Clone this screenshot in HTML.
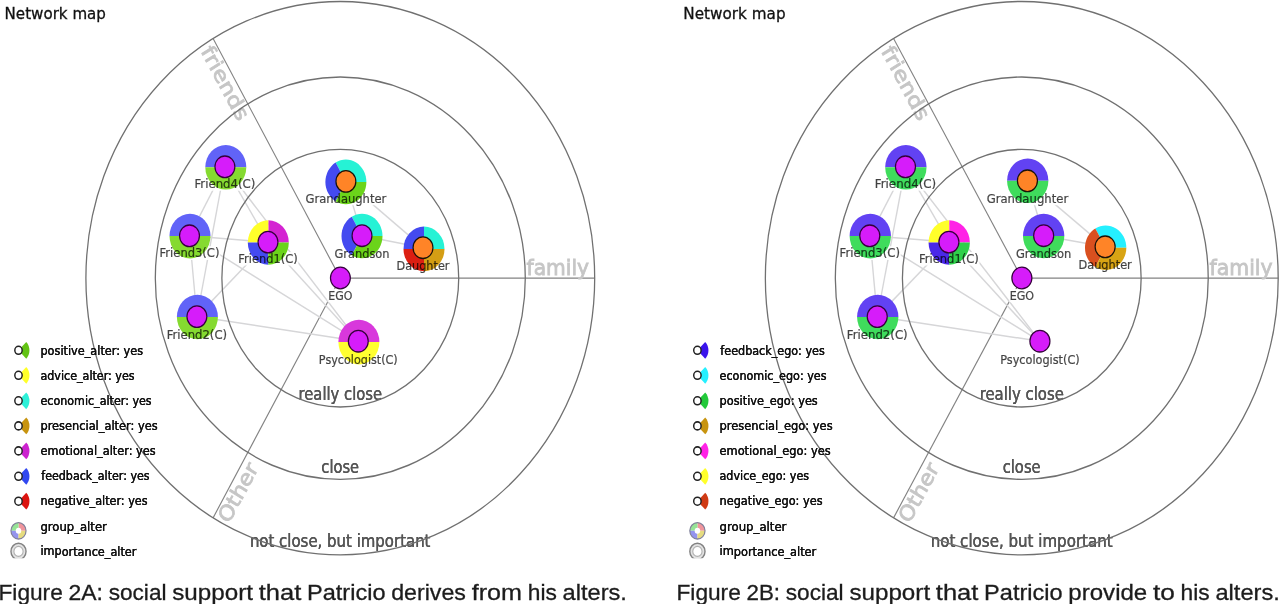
<!DOCTYPE html>
<html lang="en">
<head>
<meta charset="utf-8">
<title>Network map</title>
<style>
html,body{margin:0;padding:0;background:#fff;}
body{width:1280px;height:604px;overflow:hidden;position:relative;}
svg{position:absolute;left:0;top:0;display:block;}
svg text{font-family:"DejaVu Sans", "Liberation Sans", sans-serif;}
.b1{filter:drop-shadow(0.35px 0 0 #111);}
.b2{filter:drop-shadow(0.45px 0 0 #555);}
.b3{filter:drop-shadow(0.4px 0 0 #000);}
svg text.cap{font-family:"Liberation Sans", "DejaVu Sans", sans-serif;}
</style>
</head>
<body>
<svg width="1280" height="604" viewBox="0 0 1280 604">
<defs><clipPath id="clipb"><rect x="0" y="0" width="700" height="558.3"/></clipPath>
<clipPath id="cl"><rect x="0" y="0" width="640" height="559"/></clipPath>
<clipPath id="cr"><rect x="660" y="0" width="620" height="559"/></clipPath></defs>
<rect x="0" y="0" width="1280" height="604" fill="#fff"/>

<g clip-path="url(#cl)">
<g transform="translate(0 0) scale(0.91940 1)">
<g class="b0"><text transform="rotate(0.02 4.96 19.3)" x="4.96" y="19.3" font-size="15.3" fill="#111" stroke="#111" stroke-width="0.3" text-anchor="start" textLength="110.27" lengthAdjust="spacingAndGlyphs">Network map</text></g>
<line x1="370.13" y1="278.2" x2="646.83" y2="278.2" stroke="#828282" stroke-width="1.2"/>
<line x1="370.13" y1="278.2" x2="231.78" y2="38.57" stroke="#828282" stroke-width="1.2"/>
<line x1="370.13" y1="278.2" x2="231.78" y2="517.83" stroke="#828282" stroke-width="1.2"/>
<text x="640.74" y="275.3" text-anchor="end" textLength="67.98" lengthAdjust="spacingAndGlyphs" fill="#c6c6c6" stroke="#c6c6c6" stroke-width="0.85" font-size="21.5">family</text>
<text transform="translate(370.13 278.2) rotate(60)" x="-272.7" y="18.2" textLength="82" lengthAdjust="spacingAndGlyphs" fill="#c6c6c6" stroke="#c6c6c6" stroke-width="0.85" font-size="21.5">friends</text>
<text transform="translate(370.13 278.2) rotate(-60)" x="-273.7" y="18.2" textLength="65" lengthAdjust="spacingAndGlyphs" fill="#c6c6c6" stroke="#c6c6c6" stroke-width="0.85" font-size="21.5">Other</text>
<g class="b2"><text transform="rotate(0.02 370.13 399.6)" x="370.13" y="399.6" font-size="17" fill="#555" stroke="#555" stroke-width="0.18" text-anchor="middle" textLength="90.91" lengthAdjust="spacingAndGlyphs">really close</text></g>
<g class="b2"><text transform="rotate(0.02 370.02 473.2)" x="370.02" y="473.2" font-size="17" fill="#555" stroke="#555" stroke-width="0.18" text-anchor="middle" textLength="40.98" lengthAdjust="spacingAndGlyphs">close</text></g>
<g class="b2"><text transform="rotate(0.02 370.02 546.6)" x="370.02" y="546.6" font-size="17" fill="#555" stroke="#555" stroke-width="0.18" text-anchor="middle" textLength="196.41" lengthAdjust="spacingAndGlyphs">not close, but important</text></g>
<line x1="244.62" y1="166.8" x2="206.11" y2="235.8" stroke="#d6d6d8" stroke-width="1.5"/>
<line x1="244.62" y1="166.8" x2="214.16" y2="316.6" stroke="#d6d6d8" stroke-width="1.5"/>
<line x1="244.62" y1="166.8" x2="291.49" y2="242.1" stroke="#d6d6d8" stroke-width="1.5"/>
<line x1="244.62" y1="166.8" x2="389.71" y2="341.2" stroke="#d6d6d8" stroke-width="1.5"/>
<line x1="206.11" y1="235.8" x2="291.49" y2="242.1" stroke="#d6d6d8" stroke-width="1.5"/>
<line x1="206.11" y1="235.8" x2="214.16" y2="316.6" stroke="#d6d6d8" stroke-width="1.5"/>
<line x1="206.11" y1="235.8" x2="389.71" y2="341.2" stroke="#d6d6d8" stroke-width="1.5"/>
<line x1="214.16" y1="316.6" x2="291.49" y2="242.1" stroke="#d6d6d8" stroke-width="1.5"/>
<line x1="214.16" y1="316.6" x2="389.71" y2="341.2" stroke="#d6d6d8" stroke-width="1.5"/>
<line x1="291.49" y1="242.1" x2="389.71" y2="341.2" stroke="#d6d6d8" stroke-width="1.5"/>
<line x1="376.22" y1="181.4" x2="393.74" y2="235.7" stroke="#d6d6d8" stroke-width="1.5"/>
<line x1="376.22" y1="181.4" x2="460.08" y2="247.7" stroke="#d6d6d8" stroke-width="1.5"/>
<line x1="393.74" y1="235.7" x2="460.08" y2="247.7" stroke="#d6d6d8" stroke-width="1.5"/>
<rect x="210.57" y="177.18" width="68.09" height="13.62" rx="3" fill="#fff" fill-opacity="0.9"/>
<rect x="172.67" y="246.28" width="66.89" height="13.62" rx="3" fill="#fff" fill-opacity="0.9"/>
<rect x="180.44" y="327.48" width="67.44" height="13.62" rx="3" fill="#fff" fill-opacity="0.9"/>
<rect x="258.38" y="251.98" width="66.24" height="13.62" rx="3" fill="#fff" fill-opacity="0.9"/>
<rect x="331.36" y="191.58" width="89.73" height="13.62" rx="3" fill="#fff" fill-opacity="0.9"/>
<rect x="362.9" y="246.77" width="61.67" height="13.62" rx="3" fill="#fff" fill-opacity="0.9"/>
<rect x="430.44" y="258.57" width="59.28" height="13.62" rx="3" fill="#fff" fill-opacity="0.9"/>
<rect x="345.93" y="352.62" width="87.56" height="13.48" rx="3" fill="#fff" fill-opacity="0.9"/>
<rect x="356.21" y="288.98" width="28.06" height="13.62" rx="3" fill="#fff" fill-opacity="0.9"/>
<circle cx="370.13" cy="278.2" r="276.7" fill="none" stroke="#707070" stroke-width="1.4"/>
<circle cx="370.13" cy="278.2" r="201.2" fill="none" stroke="#707070" stroke-width="1.4"/>
<circle cx="370.13" cy="278.2" r="128.8" fill="none" stroke="#707070" stroke-width="1.4"/>
<path d="M245.59 167.3 L267.89 167.3 A22.3 22.3 0 0 0 223.29 167.3 Z" fill="#6163f8"/>
<path d="M245.59 167.3 L223.29 167.3 A22.3 22.3 0 0 0 267.89 167.3 Z" fill="#85da30"/>
<path d="M206.66 236.1 L228.96 236.1 A22.3 22.3 0 0 0 184.36 236.1 Z" fill="#6163f8"/>
<path d="M206.66 236.1 L184.36 236.1 A22.3 22.3 0 0 0 228.96 236.1 Z" fill="#85da30"/>
<path d="M214.71 317 L237.01 317 A22.3 22.3 0 0 0 192.41 317 Z" fill="#6163f8"/>
<path d="M214.71 317 L192.41 317 A22.3 22.3 0 0 0 237.01 317 Z" fill="#85da30"/>
<path d="M291.82 242.5 L314.12 242.5 A22.3 22.3 0 0 0 291.82 220.2 Z" fill="#d424d2"/>
<path d="M291.82 242.5 L291.82 220.2 A22.3 22.3 0 0 0 269.52 242.5 Z" fill="#ffff2a"/>
<path d="M291.82 242.5 L269.52 242.5 A22.3 22.3 0 0 0 291.82 264.8 Z" fill="#444af0"/>
<path d="M291.82 242.5 L291.82 264.8 A22.3 22.3 0 0 0 314.12 242.5 Z" fill="#6bd41a"/>
<path d="M376.22 181.9 L398.52 181.9 A22.3 22.3 0 0 0 365.07 162.59 Z" fill="#26f2d5"/>
<path d="M376.22 181.9 L365.07 162.59 A22.3 22.3 0 0 0 365.07 201.21 Z" fill="#444af0"/>
<path d="M376.22 181.9 L365.07 201.21 A22.3 22.3 0 0 0 398.52 181.9 Z" fill="#6bd41a"/>
<path d="M393.74 236 L416.04 236 A22.3 22.3 0 0 0 382.59 216.69 Z" fill="#26f2d5"/>
<path d="M393.74 236 L382.59 216.69 A22.3 22.3 0 0 0 382.59 255.31 Z" fill="#444af0"/>
<path d="M393.74 236 L382.59 255.31 A22.3 22.3 0 0 0 416.04 236 Z" fill="#6bd41a"/>
<path d="M461.17 248.9 L483.47 248.9 A22.3 22.3 0 0 0 461.17 226.6 Z" fill="#26f2d5"/>
<path d="M461.17 248.9 L461.17 226.6 A22.3 22.3 0 0 0 438.87 248.9 Z" fill="#444af0"/>
<path d="M461.17 248.9 L438.87 248.9 A22.3 22.3 0 0 0 461.17 271.2 Z" fill="#dc1f12"/>
<path d="M461.17 248.9 L461.17 271.2 A22.3 22.3 0 0 0 483.47 248.9 Z" fill="#d49e14"/>
<path d="M390.36 342.1 L412.66 342.1 A22.3 22.3 0 0 0 368.06 342.1 Z" fill="#d838dc"/>
<path d="M390.36 342.1 L368.06 342.1 A22.3 22.3 0 0 0 412.66 342.1 Z" fill="#ffff30"/>
<circle cx="244.62" cy="166.8" r="10.8" fill="#d61cfa" stroke="#33003a" stroke-width="1.3"/>
<circle cx="206.11" cy="235.8" r="10.8" fill="#d61cfa" stroke="#33003a" stroke-width="1.3"/>
<circle cx="214.16" cy="316.6" r="10.8" fill="#d61cfa" stroke="#33003a" stroke-width="1.3"/>
<circle cx="291.49" cy="242.1" r="10.8" fill="#d61cfa" stroke="#33003a" stroke-width="1.3"/>
<circle cx="376.22" cy="181.4" r="10.8" fill="#ff8427" stroke="#1a1208" stroke-width="1.3"/>
<circle cx="393.74" cy="235.7" r="10.8" fill="#d61cfa" stroke="#33003a" stroke-width="1.3"/>
<circle cx="460.08" cy="247.7" r="10.8" fill="#ff8427" stroke="#1a1208" stroke-width="1.3"/>
<circle cx="389.71" cy="341.2" r="10.8" fill="#d61cfa" stroke="#33003a" stroke-width="1.3"/>
<circle cx="370.24" cy="278" r="10.8" fill="#d61cfa" stroke="#33003a" stroke-width="1.3"/>
<g class="b0" opacity="0.74"><text transform="rotate(0.02 244.62 188.3)" x="244.62" y="188.3" font-size="12.5" fill="#000" stroke="#000" stroke-width="0.25" text-anchor="middle" textLength="66.32" lengthAdjust="spacingAndGlyphs">Friend4(C)</text></g>
<g class="b0" opacity="0.74"><text transform="rotate(0.02 206.11 257.4)" x="206.11" y="257.4" font-size="12.5" fill="#000" stroke="#000" stroke-width="0.25" text-anchor="middle" textLength="65.13" lengthAdjust="spacingAndGlyphs">Friend3(C)</text></g>
<g class="b0" opacity="0.74"><text transform="rotate(0.02 214.16 338.6)" x="214.16" y="338.6" font-size="12.5" fill="#000" stroke="#000" stroke-width="0.25" text-anchor="middle" textLength="65.67" lengthAdjust="spacingAndGlyphs">Friend2(C)</text></g>
<g class="b0" opacity="0.74"><text transform="rotate(0.02 291.49 263.1)" x="291.49" y="263.1" font-size="12.5" fill="#000" stroke="#000" stroke-width="0.25" text-anchor="middle" textLength="64.48" lengthAdjust="spacingAndGlyphs">Friend1(C)</text></g>
<g class="b0" opacity="0.74"><text transform="rotate(0.02 376.22 202.7)" x="376.22" y="202.7" font-size="12.5" fill="#000" stroke="#000" stroke-width="0.25" text-anchor="middle" textLength="87.97" lengthAdjust="spacingAndGlyphs">Grandaughter</text></g>
<g class="b0" opacity="0.74"><text transform="rotate(0.02 393.74 257.9)" x="393.74" y="257.9" font-size="12.5" fill="#000" stroke="#000" stroke-width="0.25" text-anchor="middle" textLength="59.91" lengthAdjust="spacingAndGlyphs">Grandson</text></g>
<g class="b0" opacity="0.74"><text transform="rotate(0.02 460.08 269.7)" x="460.08" y="269.7" font-size="12.5" fill="#000" stroke="#000" stroke-width="0.25" text-anchor="middle" textLength="57.51" lengthAdjust="spacingAndGlyphs">Daughter</text></g>
<g class="b0" opacity="0.74"><text transform="rotate(0.02 389.71 363.6)" x="389.71" y="363.6" font-size="12.3" fill="#000" stroke="#000" stroke-width="0.25" text-anchor="middle" textLength="85.79" lengthAdjust="spacingAndGlyphs">Psycologist(C)</text></g>
<g class="b0" opacity="0.74"><text transform="rotate(0.02 370.24 300.1)" x="370.24" y="300.1" font-size="12.5" fill="#000" stroke="#000" stroke-width="0.25" text-anchor="middle" textLength="26.3" lengthAdjust="spacingAndGlyphs">EGO</text></g>
<path d="M20.12 350.3 L28.54 358.71 A11.9 11.9 0 0 0 28.54 341.89 Z" fill="#63c314"/>
<circle cx="20.12" cy="350.3" r="4.0" fill="#fff" stroke="#222" stroke-width="1.6"/>
<g class="b1"><text transform="rotate(0.02 44 354.7)" x="44" y="354.7" font-size="13" fill="#111" stroke="#111" stroke-width="0.18" text-anchor="start" textLength="111.68" lengthAdjust="spacingAndGlyphs">positive_alter: yes</text></g>
<path d="M20.12 375.3 L28.54 383.71 A11.9 11.9 0 0 0 28.54 366.89 Z" fill="#ffff2a"/>
<circle cx="20.12" cy="375.3" r="4.0" fill="#fff" stroke="#222" stroke-width="1.6"/>
<g class="b1"><text transform="rotate(0.02 44 379.6)" x="44" y="379.6" font-size="13" fill="#111" stroke="#111" stroke-width="0.18" text-anchor="start" textLength="102.44" lengthAdjust="spacingAndGlyphs">advice_alter: yes</text></g>
<path d="M20.12 400.8 L28.54 409.21 A11.9 11.9 0 0 0 28.54 392.39 Z" fill="#2ef0d8"/>
<circle cx="20.12" cy="400.8" r="4.0" fill="#fff" stroke="#222" stroke-width="1.6"/>
<g class="b1"><text transform="rotate(0.02 44 404.7)" x="44" y="404.7" font-size="13" fill="#111" stroke="#111" stroke-width="0.18" text-anchor="start" textLength="120.93" lengthAdjust="spacingAndGlyphs">economic_alter: yes</text></g>
<path d="M20.12 425.9 L28.54 434.31 A11.9 11.9 0 0 0 28.54 417.49 Z" fill="#c8940f"/>
<circle cx="20.12" cy="425.9" r="4.0" fill="#fff" stroke="#222" stroke-width="1.6"/>
<g class="b1"><text transform="rotate(0.02 44 429.8)" x="44" y="429.8" font-size="13" fill="#111" stroke="#111" stroke-width="0.18" text-anchor="start" textLength="127.45" lengthAdjust="spacingAndGlyphs">presencial_alter: yes</text></g>
<path d="M20.12 450.9 L28.54 459.31 A11.9 11.9 0 0 0 28.54 442.49 Z" fill="#cc22cf"/>
<circle cx="20.12" cy="450.9" r="4.0" fill="#fff" stroke="#222" stroke-width="1.6"/>
<g class="b1"><text transform="rotate(0.02 44 454.8)" x="44" y="454.8" font-size="13" fill="#111" stroke="#111" stroke-width="0.18" text-anchor="start" textLength="125.28" lengthAdjust="spacingAndGlyphs">emotional_alter: yes</text></g>
<path d="M20.12 476.3 L28.54 484.71 A11.9 11.9 0 0 0 28.54 467.89 Z" fill="#3148f0"/>
<circle cx="20.12" cy="476.3" r="4.0" fill="#fff" stroke="#222" stroke-width="1.6"/>
<g class="b1"><text transform="rotate(0.02 44.87 479.9)" x="44.87" y="479.9" font-size="13" fill="#111" stroke="#111" stroke-width="0.18" text-anchor="start" textLength="117.88" lengthAdjust="spacingAndGlyphs">feedback_alter: yes</text></g>
<path d="M20.12 501.2 L28.54 509.61 A11.9 11.9 0 0 0 28.54 492.79 Z" fill="#dc1410"/>
<circle cx="20.12" cy="501.2" r="4.0" fill="#fff" stroke="#222" stroke-width="1.6"/>
<g class="b1"><text transform="rotate(0.02 44 504.8)" x="44" y="504.8" font-size="13" fill="#111" stroke="#111" stroke-width="0.18" text-anchor="start" textLength="116.58" lengthAdjust="spacingAndGlyphs">negative_alter: yes</text></g>
<path d="M20.12 530.8 L28.32 530.8 A8.2 8.2 0 0 0 20.12 522.6 Z" fill="#f0949c"/>
<path d="M20.12 530.8 L20.12 522.6 A8.2 8.2 0 0 0 11.92 530.8 Z" fill="#96e496"/>
<path d="M20.12 530.8 L11.92 530.8 A8.2 8.2 0 0 0 20.12 539 Z" fill="#9494ee"/>
<path d="M20.12 530.8 L20.12 539 A8.2 8.2 0 0 0 28.32 530.8 Z" fill="#e6dc80"/>
<circle cx="20.12" cy="530.8" r="8.2" fill="none" stroke="#80809a" stroke-width="1.3"/>
<circle cx="20.12" cy="530.8" r="3" fill="#fff"/>
<g class="b1"><text transform="rotate(0.02 44 530.6)" x="44" y="530.6" font-size="13" fill="#111" stroke="#111" stroke-width="0.18" text-anchor="start" textLength="72.2" lengthAdjust="spacingAndGlyphs">group_alter</text></g>
<g clip-path="url(#clipb)">
<circle cx="20.12" cy="551.4" r="8.2" fill="#e2e2e2" stroke="#828282" stroke-width="1.5"/>
<circle cx="20.12" cy="551.4" r="5" fill="#fff" stroke="#b0b0b0" stroke-width="1.2"/>
</g>
<g class="b1"><text transform="rotate(0.02 44 555.5)" x="44" y="555.5" font-size="13" fill="#111" stroke="#111" stroke-width="0.18" text-anchor="start" textLength="104.39" lengthAdjust="spacingAndGlyphs">importance_alter</text></g>
</g>
</g>
<g clip-path="url(#cr)">
<g transform="translate(678.77 0) scale(0.92672 1)">
<g class="b0"><text transform="rotate(0.02 4.96 19.3)" x="4.96" y="19.3" font-size="15.3" fill="#111" stroke="#111" stroke-width="0.3" text-anchor="start" textLength="110.27" lengthAdjust="spacingAndGlyphs">Network map</text></g>
<line x1="370.13" y1="278.2" x2="646.83" y2="278.2" stroke="#828282" stroke-width="1.2"/>
<line x1="370.13" y1="278.2" x2="231.78" y2="38.57" stroke="#828282" stroke-width="1.2"/>
<line x1="370.13" y1="278.2" x2="231.78" y2="517.83" stroke="#828282" stroke-width="1.2"/>
<text x="640.74" y="275.3" text-anchor="end" textLength="67.98" lengthAdjust="spacingAndGlyphs" fill="#c6c6c6" stroke="#c6c6c6" stroke-width="0.85" font-size="21.5">family</text>
<text transform="translate(370.13 278.2) rotate(60)" x="-272.7" y="18.2" textLength="82" lengthAdjust="spacingAndGlyphs" fill="#c6c6c6" stroke="#c6c6c6" stroke-width="0.85" font-size="21.5">friends</text>
<text transform="translate(370.13 278.2) rotate(-60)" x="-273.7" y="18.2" textLength="65" lengthAdjust="spacingAndGlyphs" fill="#c6c6c6" stroke="#c6c6c6" stroke-width="0.85" font-size="21.5">Other</text>
<g class="b2"><text transform="rotate(0.02 370.13 399.6)" x="370.13" y="399.6" font-size="17" fill="#555" stroke="#555" stroke-width="0.18" text-anchor="middle" textLength="90.91" lengthAdjust="spacingAndGlyphs">really close</text></g>
<g class="b2"><text transform="rotate(0.02 370.02 473.2)" x="370.02" y="473.2" font-size="17" fill="#555" stroke="#555" stroke-width="0.18" text-anchor="middle" textLength="40.98" lengthAdjust="spacingAndGlyphs">close</text></g>
<g class="b2"><text transform="rotate(0.02 370.02 546.6)" x="370.02" y="546.6" font-size="17" fill="#555" stroke="#555" stroke-width="0.18" text-anchor="middle" textLength="196.41" lengthAdjust="spacingAndGlyphs">not close, but important</text></g>
<line x1="244.62" y1="166.8" x2="206.11" y2="235.8" stroke="#d6d6d8" stroke-width="1.5"/>
<line x1="244.62" y1="166.8" x2="214.16" y2="316.6" stroke="#d6d6d8" stroke-width="1.5"/>
<line x1="244.62" y1="166.8" x2="291.49" y2="242.1" stroke="#d6d6d8" stroke-width="1.5"/>
<line x1="244.62" y1="166.8" x2="389.71" y2="341.2" stroke="#d6d6d8" stroke-width="1.5"/>
<line x1="206.11" y1="235.8" x2="291.49" y2="242.1" stroke="#d6d6d8" stroke-width="1.5"/>
<line x1="206.11" y1="235.8" x2="214.16" y2="316.6" stroke="#d6d6d8" stroke-width="1.5"/>
<line x1="206.11" y1="235.8" x2="389.71" y2="341.2" stroke="#d6d6d8" stroke-width="1.5"/>
<line x1="214.16" y1="316.6" x2="291.49" y2="242.1" stroke="#d6d6d8" stroke-width="1.5"/>
<line x1="214.16" y1="316.6" x2="389.71" y2="341.2" stroke="#d6d6d8" stroke-width="1.5"/>
<line x1="291.49" y1="242.1" x2="389.71" y2="341.2" stroke="#d6d6d8" stroke-width="1.5"/>
<line x1="376.22" y1="180.8" x2="393.74" y2="235.7" stroke="#d6d6d8" stroke-width="1.5"/>
<line x1="376.22" y1="180.8" x2="460.08" y2="246.8" stroke="#d6d6d8" stroke-width="1.5"/>
<line x1="393.74" y1="235.7" x2="460.08" y2="246.8" stroke="#d6d6d8" stroke-width="1.5"/>
<rect x="210.57" y="177.18" width="68.09" height="13.62" rx="3" fill="#fff" fill-opacity="0.9"/>
<rect x="172.67" y="246.28" width="66.89" height="13.62" rx="3" fill="#fff" fill-opacity="0.9"/>
<rect x="180.44" y="327.48" width="67.44" height="13.62" rx="3" fill="#fff" fill-opacity="0.9"/>
<rect x="258.38" y="251.98" width="66.24" height="13.62" rx="3" fill="#fff" fill-opacity="0.9"/>
<rect x="331.36" y="191.58" width="89.73" height="13.62" rx="3" fill="#fff" fill-opacity="0.9"/>
<rect x="362.9" y="246.77" width="61.67" height="13.62" rx="3" fill="#fff" fill-opacity="0.9"/>
<rect x="430.44" y="257.77" width="59.28" height="13.62" rx="3" fill="#fff" fill-opacity="0.9"/>
<rect x="345.93" y="352.62" width="87.56" height="13.48" rx="3" fill="#fff" fill-opacity="0.9"/>
<rect x="356.21" y="288.98" width="28.06" height="13.62" rx="3" fill="#fff" fill-opacity="0.9"/>
<circle cx="370.13" cy="278.2" r="276.7" fill="none" stroke="#707070" stroke-width="1.4"/>
<circle cx="370.13" cy="278.2" r="201.2" fill="none" stroke="#707070" stroke-width="1.4"/>
<circle cx="370.13" cy="278.2" r="128.8" fill="none" stroke="#707070" stroke-width="1.4"/>
<path d="M245.05 167.3 L267.35 167.3 A22.3 22.3 0 0 0 222.75 167.3 Z" fill="#6242f3"/>
<path d="M245.05 167.3 L222.75 167.3 A22.3 22.3 0 0 0 267.35 167.3 Z" fill="#3fdc5c"/>
<path d="M206.66 236.1 L228.96 236.1 A22.3 22.3 0 0 0 184.36 236.1 Z" fill="#6242f3"/>
<path d="M206.66 236.1 L184.36 236.1 A22.3 22.3 0 0 0 228.96 236.1 Z" fill="#3fdc5c"/>
<path d="M214.71 317 L237.01 317 A22.3 22.3 0 0 0 192.41 317 Z" fill="#6242f3"/>
<path d="M214.71 317 L192.41 317 A22.3 22.3 0 0 0 237.01 317 Z" fill="#3fdc5c"/>
<path d="M291.82 242.5 L314.12 242.5 A22.3 22.3 0 0 0 291.82 220.2 Z" fill="#ff22e6"/>
<path d="M291.82 242.5 L291.82 220.2 A22.3 22.3 0 0 0 269.52 242.5 Z" fill="#ffff2a"/>
<path d="M291.82 242.5 L269.52 242.5 A22.3 22.3 0 0 0 291.82 264.8 Z" fill="#4a28e8"/>
<path d="M291.82 242.5 L291.82 264.8 A22.3 22.3 0 0 0 314.12 242.5 Z" fill="#2fd04a"/>
<path d="M376.55 180.8 L398.85 180.8 A22.3 22.3 0 0 0 354.25 180.8 Z" fill="#6242f3"/>
<path d="M376.55 180.8 L354.25 180.8 A22.3 22.3 0 0 0 398.85 180.8 Z" fill="#3fdc5c"/>
<path d="M393.74 236 L416.04 236 A22.3 22.3 0 0 0 371.44 236 Z" fill="#6242f3"/>
<path d="M393.74 236 L371.44 236 A22.3 22.3 0 0 0 416.04 236 Z" fill="#3fdc5c"/>
<path d="M460.63 247.7 L482.93 247.7 A22.3 22.3 0 0 0 449.48 228.39 Z" fill="#25f0ff"/>
<path d="M460.63 247.7 L449.48 228.39 A22.3 22.3 0 0 0 449.48 267.01 Z" fill="#d9501f"/>
<path d="M460.63 247.7 L449.48 267.01 A22.3 22.3 0 0 0 482.93 247.7 Z" fill="#d8a414"/>
<circle cx="244.62" cy="166.8" r="10.8" fill="#d61cfa" stroke="#33003a" stroke-width="1.3"/>
<circle cx="206.11" cy="235.8" r="10.8" fill="#d61cfa" stroke="#33003a" stroke-width="1.3"/>
<circle cx="214.16" cy="316.6" r="10.8" fill="#d61cfa" stroke="#33003a" stroke-width="1.3"/>
<circle cx="291.49" cy="242.1" r="10.8" fill="#d61cfa" stroke="#33003a" stroke-width="1.3"/>
<circle cx="376.22" cy="180.8" r="10.8" fill="#ff8427" stroke="#1a1208" stroke-width="1.3"/>
<circle cx="393.74" cy="235.7" r="10.8" fill="#d61cfa" stroke="#33003a" stroke-width="1.3"/>
<circle cx="460.08" cy="246.8" r="10.8" fill="#ff8427" stroke="#1a1208" stroke-width="1.3"/>
<circle cx="389.71" cy="341.2" r="10.8" fill="#d61cfa" stroke="#33003a" stroke-width="1.3"/>
<circle cx="370.24" cy="278" r="10.8" fill="#d61cfa" stroke="#33003a" stroke-width="1.3"/>
<g class="b0" opacity="0.74"><text transform="rotate(0.02 244.62 188.3)" x="244.62" y="188.3" font-size="12.5" fill="#000" stroke="#000" stroke-width="0.25" text-anchor="middle" textLength="66.32" lengthAdjust="spacingAndGlyphs">Friend4(C)</text></g>
<g class="b0" opacity="0.74"><text transform="rotate(0.02 206.11 257.4)" x="206.11" y="257.4" font-size="12.5" fill="#000" stroke="#000" stroke-width="0.25" text-anchor="middle" textLength="65.13" lengthAdjust="spacingAndGlyphs">Friend3(C)</text></g>
<g class="b0" opacity="0.74"><text transform="rotate(0.02 214.16 338.6)" x="214.16" y="338.6" font-size="12.5" fill="#000" stroke="#000" stroke-width="0.25" text-anchor="middle" textLength="65.67" lengthAdjust="spacingAndGlyphs">Friend2(C)</text></g>
<g class="b0" opacity="0.74"><text transform="rotate(0.02 291.49 263.1)" x="291.49" y="263.1" font-size="12.5" fill="#000" stroke="#000" stroke-width="0.25" text-anchor="middle" textLength="64.48" lengthAdjust="spacingAndGlyphs">Friend1(C)</text></g>
<g class="b0" opacity="0.74"><text transform="rotate(0.02 376.22 202.7)" x="376.22" y="202.7" font-size="12.5" fill="#000" stroke="#000" stroke-width="0.25" text-anchor="middle" textLength="87.97" lengthAdjust="spacingAndGlyphs">Grandaughter</text></g>
<g class="b0" opacity="0.74"><text transform="rotate(0.02 393.74 257.9)" x="393.74" y="257.9" font-size="12.5" fill="#000" stroke="#000" stroke-width="0.25" text-anchor="middle" textLength="59.91" lengthAdjust="spacingAndGlyphs">Grandson</text></g>
<g class="b0" opacity="0.74"><text transform="rotate(0.02 460.08 268.9)" x="460.08" y="268.9" font-size="12.5" fill="#000" stroke="#000" stroke-width="0.25" text-anchor="middle" textLength="57.51" lengthAdjust="spacingAndGlyphs">Daughter</text></g>
<g class="b0" opacity="0.74"><text transform="rotate(0.02 389.71 363.6)" x="389.71" y="363.6" font-size="12.3" fill="#000" stroke="#000" stroke-width="0.25" text-anchor="middle" textLength="85.79" lengthAdjust="spacingAndGlyphs">Psycologist(C)</text></g>
<g class="b0" opacity="0.74"><text transform="rotate(0.02 370.24 300.1)" x="370.24" y="300.1" font-size="12.5" fill="#000" stroke="#000" stroke-width="0.25" text-anchor="middle" textLength="26.3" lengthAdjust="spacingAndGlyphs">EGO</text></g>
<path d="M20.12 350.3 L28.54 358.71 A11.9 11.9 0 0 0 28.54 341.89 Z" fill="#3a14ec"/>
<circle cx="20.12" cy="350.3" r="4.0" fill="#fff" stroke="#222" stroke-width="1.6"/>
<g class="b1"><text transform="rotate(0.02 44.87 354.7)" x="44.87" y="354.7" font-size="13" fill="#111" stroke="#111" stroke-width="0.18" text-anchor="start" textLength="112.66" lengthAdjust="spacingAndGlyphs">feedback_ego: yes</text></g>
<path d="M20.12 375.3 L28.54 383.71 A11.9 11.9 0 0 0 28.54 366.89 Z" fill="#25f0ff"/>
<circle cx="20.12" cy="375.3" r="4.0" fill="#fff" stroke="#222" stroke-width="1.6"/>
<g class="b1"><text transform="rotate(0.02 44 379.6)" x="44" y="379.6" font-size="13" fill="#111" stroke="#111" stroke-width="0.18" text-anchor="start" textLength="115.49" lengthAdjust="spacingAndGlyphs">economic_ego: yes</text></g>
<path d="M20.12 400.8 L28.54 409.21 A11.9 11.9 0 0 0 28.54 392.39 Z" fill="#22c93a"/>
<circle cx="20.12" cy="400.8" r="4.0" fill="#fff" stroke="#222" stroke-width="1.6"/>
<g class="b1"><text transform="rotate(0.02 44 404.7)" x="44" y="404.7" font-size="13" fill="#111" stroke="#111" stroke-width="0.18" text-anchor="start" textLength="106.02" lengthAdjust="spacingAndGlyphs">positive_ego: yes</text></g>
<path d="M20.12 425.9 L28.54 434.31 A11.9 11.9 0 0 0 28.54 417.49 Z" fill="#c8940f"/>
<circle cx="20.12" cy="425.9" r="4.0" fill="#fff" stroke="#222" stroke-width="1.6"/>
<g class="b1"><text transform="rotate(0.02 44 429.8)" x="44" y="429.8" font-size="13" fill="#111" stroke="#111" stroke-width="0.18" text-anchor="start" textLength="122.01" lengthAdjust="spacingAndGlyphs">presencial_ego: yes</text></g>
<path d="M20.12 450.9 L28.54 459.31 A11.9 11.9 0 0 0 28.54 442.49 Z" fill="#ff22e6"/>
<circle cx="20.12" cy="450.9" r="4.0" fill="#fff" stroke="#222" stroke-width="1.6"/>
<g class="b1"><text transform="rotate(0.02 44 454.8)" x="44" y="454.8" font-size="13" fill="#111" stroke="#111" stroke-width="0.18" text-anchor="start" textLength="119.84" lengthAdjust="spacingAndGlyphs">emotional_ego: yes</text></g>
<path d="M20.12 476.3 L28.54 484.71 A11.9 11.9 0 0 0 28.54 467.89 Z" fill="#ffff2a"/>
<circle cx="20.12" cy="476.3" r="4.0" fill="#fff" stroke="#222" stroke-width="1.6"/>
<g class="b1"><text transform="rotate(0.02 44 479.9)" x="44" y="479.9" font-size="13" fill="#111" stroke="#111" stroke-width="0.18" text-anchor="start" textLength="96.67" lengthAdjust="spacingAndGlyphs">advice_ego: yes</text></g>
<path d="M20.12 501.2 L28.54 509.61 A11.9 11.9 0 0 0 28.54 492.79 Z" fill="#cf3a14"/>
<circle cx="20.12" cy="501.2" r="4.0" fill="#fff" stroke="#222" stroke-width="1.6"/>
<g class="b1"><text transform="rotate(0.02 44 504.8)" x="44" y="504.8" font-size="13" fill="#111" stroke="#111" stroke-width="0.18" text-anchor="start" textLength="111.14" lengthAdjust="spacingAndGlyphs">negative_ego: yes</text></g>
<path d="M20.12 530.8 L28.32 530.8 A8.2 8.2 0 0 0 20.12 522.6 Z" fill="#f0949c"/>
<path d="M20.12 530.8 L20.12 522.6 A8.2 8.2 0 0 0 11.92 530.8 Z" fill="#96e496"/>
<path d="M20.12 530.8 L11.92 530.8 A8.2 8.2 0 0 0 20.12 539 Z" fill="#9494ee"/>
<path d="M20.12 530.8 L20.12 539 A8.2 8.2 0 0 0 28.32 530.8 Z" fill="#e6dc80"/>
<circle cx="20.12" cy="530.8" r="8.2" fill="none" stroke="#80809a" stroke-width="1.3"/>
<circle cx="20.12" cy="530.8" r="3" fill="#fff"/>
<g class="b1"><text transform="rotate(0.02 44 530.6)" x="44" y="530.6" font-size="13" fill="#111" stroke="#111" stroke-width="0.18" text-anchor="start" textLength="72.2" lengthAdjust="spacingAndGlyphs">group_alter</text></g>
<g clip-path="url(#clipb)">
<circle cx="20.12" cy="551.4" r="8.2" fill="#e2e2e2" stroke="#828282" stroke-width="1.5"/>
<circle cx="20.12" cy="551.4" r="5" fill="#fff" stroke="#b0b0b0" stroke-width="1.2"/>
</g>
<g class="b1"><text transform="rotate(0.02 44 555.5)" x="44" y="555.5" font-size="13" fill="#111" stroke="#111" stroke-width="0.18" text-anchor="start" textLength="104.39" lengthAdjust="spacingAndGlyphs">importance_alter</text></g>
</g>
</g>
<text class="cap" id="capA" transform="rotate(0.01 298.5 599.7)" y="599.7" font-size="21.9" fill="#1c1c1c" stroke="#1c1c1c" stroke-width="0.3"><tspan x="-1.5" textLength="64.29" lengthAdjust="spacingAndGlyphs">Figure</tspan> <tspan x="68.54" textLength="34.37" lengthAdjust="spacingAndGlyphs">2A:</tspan> <tspan x="108.65" textLength="57.89" lengthAdjust="spacingAndGlyphs">social</tspan> <tspan x="172.28" textLength="80.73" lengthAdjust="spacingAndGlyphs">support</tspan> <tspan x="258.75" textLength="42.53" lengthAdjust="spacingAndGlyphs">that</tspan> <tspan x="307.02" textLength="78.47" lengthAdjust="spacingAndGlyphs">Patricio</tspan> <tspan x="391.23" textLength="74.71" lengthAdjust="spacingAndGlyphs">derives</tspan> <tspan x="471.69" textLength="50.29" lengthAdjust="spacingAndGlyphs">from</tspan> <tspan x="527.72" textLength="29.11" lengthAdjust="spacingAndGlyphs">his</tspan> <tspan x="562.57" textLength="64.34" lengthAdjust="spacingAndGlyphs">alters.</tspan></text>
<text class="cap" id="capB" transform="rotate(0.01 976.5 599.7)" y="599.7" font-size="21.9" fill="#1c1c1c" stroke="#1c1c1c" stroke-width="0.3"><tspan x="676.5" textLength="64.29" lengthAdjust="spacingAndGlyphs">Figure</tspan> <tspan x="746.54" textLength="33.49" lengthAdjust="spacingAndGlyphs">2B:</tspan> <tspan x="785.76" textLength="57.89" lengthAdjust="spacingAndGlyphs">social</tspan> <tspan x="849.4" textLength="80.73" lengthAdjust="spacingAndGlyphs">support</tspan> <tspan x="935.87" textLength="42.53" lengthAdjust="spacingAndGlyphs">that</tspan> <tspan x="984.14" textLength="78.47" lengthAdjust="spacingAndGlyphs">Patricio</tspan> <tspan x="1068.35" textLength="78.88" lengthAdjust="spacingAndGlyphs">provide</tspan> <tspan x="1152.97" textLength="21.9" lengthAdjust="spacingAndGlyphs">to</tspan> <tspan x="1180.62" textLength="29.11" lengthAdjust="spacingAndGlyphs">his</tspan> <tspan x="1215.47" textLength="64.34" lengthAdjust="spacingAndGlyphs">alters.</tspan></text>
</svg>
</body>
</html>
